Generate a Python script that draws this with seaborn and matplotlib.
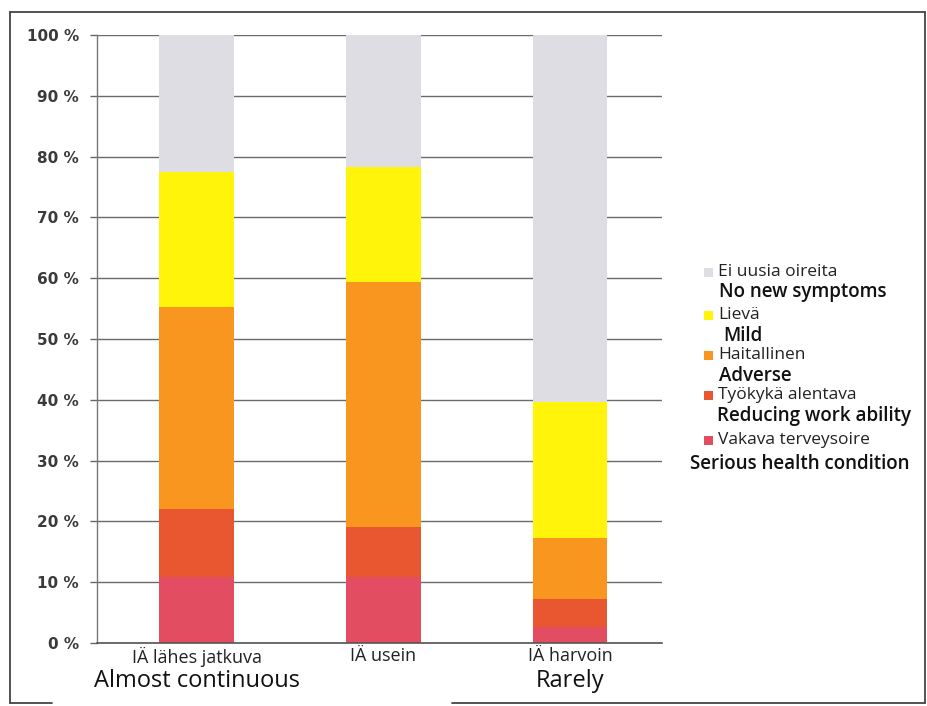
import matplotlib
matplotlib.use("Agg")
import matplotlib.pyplot as plt
import matplotlib.transforms as mtransforms
from matplotlib.patches import Rectangle
from matplotlib.lines import Line2D
import seaborn as sns
import pandas as pd
import numpy as np

# Categories (Finnish tick label, English caption)
categories = ["IÄ lähes jatkuva", "IÄ usein", "IÄ harvoin"]
captions = ["Almost continuous", "", "Rarely"]

# Share of answers per severity class (%), bottom to top
serious = [10.9, 10.8, 2.7]
reducing = [11.1, 8.2, 4.5]
adverse = [33.3, 40.4, 10.1]
mild = [22.2, 18.9, 22.3]
no_new = [22.5, 21.7, 60.4]

series_fi = ["Vakava terveysoire", "Työkykä alentava", "Haitallinen", "Lievä", "Ei uusia oireita"]
series_en = ["Serious health condition", "Reducing work ability", "Adverse", "Mild", "No new symptoms"]
colors = ["#e24d62", "#e8572f", "#f8961f", "#fff40a", "#dedde3"]

y_ticks = [0, 10, 20, 30, 40, 50, 60, 70, 80, 90, 100]
y_labels = [f"{v} %" for v in y_ticks]

sns.set_theme(style="white")
plt.rcParams["font.family"] = ["DejaVu Sans"]
label_font = ["Open Sans", "DejaVu Sans"]

fig = plt.figure(figsize=(9.27, 7.06), dpi=100)
ax = fig.add_axes([97 / 927, 1 - 643 / 706, (662 - 97) / 927, (643 - 35) / 706])

layers = [serious, reducing, adverse, mild, no_new]
cum = np.cumsum(np.array(layers), axis=0)

# Stacked bars: draw cumulative totals from the top layer down
for i in range(len(layers) - 1, -1, -1):
    df = pd.DataFrame({"category": categories, "value": cum[i]})
    sns.barplot(data=df, x="category", y="value", order=categories, color=colors[i],
                saturation=1, width=0.4, ax=ax, zorder=2, linewidth=0)

ax.set_xlim(-0.533, 2.492)
ax.set_ylim(0, 100)
ax.set_xlabel("")
ax.set_ylabel("")

ax.set_yticks(y_ticks)
ax.set_yticklabels(y_labels, fontsize=11, color="#3a3a3a", fontweight="bold")
ax.yaxis.grid(True, color="#6a6a6a", linewidth=1.0, zorder=0)
ax.set_axisbelow(True)
ax.tick_params(axis="y", which="major", direction="out", length=5, width=1,
               color="#666666", pad=8, left=True)

ax.set_xticks(range(len(categories)))
ax.set_xticklabels(categories, fontsize=13, color="#222222", family=label_font)
ax.tick_params(axis="x", which="major", length=0, pad=3)
ax.set_xticks([-0.533, 2.492], minor=True)
ax.tick_params(axis="x", which="minor", direction="out", length=5, width=1, color="#555555")

for side in ["top", "right"]:
    ax.spines[side].set_visible(False)
ax.spines["left"].set_color("#777777")
ax.spines["bottom"].set_color("#555555")
ax.spines["left"].set_linewidth(1.0)
ax.spines["bottom"].set_linewidth(1.2)

# English captions under the tick labels
trans = mtransforms.blended_transform_factory(ax.transData, fig.transFigure)
for i, cap in enumerate(captions):
    if cap:
        ax.text(i, 1 - 681 / 706, cap, transform=trans, ha="center", va="center",
                fontsize=17, color="#111111", family=label_font)

# Legend: coloured squares with Finnish and English names
def fy(py):
    return 1 - py / 706

def fx(px):
    return px / 927

legend_rows = [
    (4, 272, 292, 719),
    (3, 315, 336, 723),
    (2, 355, 376, 719),
    (1, 395, 416, 717),
    (0, 440, 464, 690),
]
for idx, y_fi, y_en, x_en in legend_rows:
    fig.patches.append(Rectangle((fx(704), fy(y_fi + 4.5)), 9 / 927, 9 / 706,
                                 transform=fig.transFigure, facecolor=colors[idx],
                                 edgecolor="none"))
    fig.text(fx(718), fy(y_fi), series_fi[idx], ha="left", va="center", fontsize=12.5,
             color="#222222", family=label_font)
    fig.text(fx(x_en), fy(y_en), series_en[idx], ha="left", va="center", fontsize=13.5,
             color="#111111", fontweight="semibold", family=label_font)

# Outer frame
frame_kw = dict(color="#444444", linewidth=1.3, transform=fig.transFigure)
fig.lines.append(Line2D([fx(10), fx(925)], [fy(12), fy(12)], **frame_kw))
fig.lines.append(Line2D([fx(10), fx(10)], [fy(12), fy(703)], **frame_kw))
fig.lines.append(Line2D([fx(925), fx(925)], [fy(12), fy(703)], **frame_kw))
fig.lines.append(Line2D([fx(10), fx(52)], [fy(703), fy(703)], **frame_kw))
fig.lines.append(Line2D([fx(452), fx(925)], [fy(703), fy(703)], **frame_kw))

fig.savefig("out.png", dpi=100)
